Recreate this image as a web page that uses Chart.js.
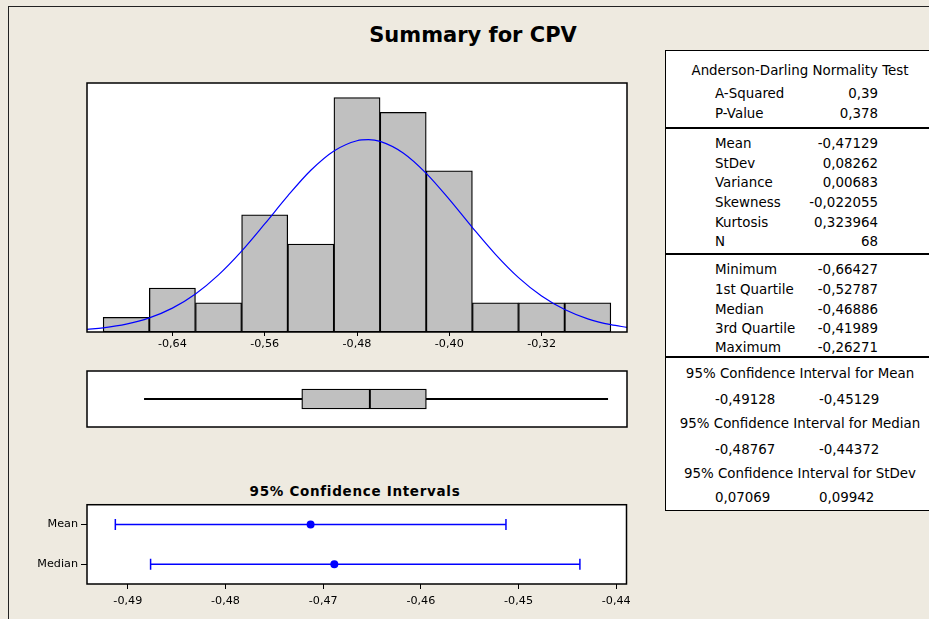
<!DOCTYPE html>
<html>
<head>
<meta charset="utf-8">
<script src="https://cdn.jsdelivr.net/npm/chart.js@4.4.0/dist/chart.umd.min.js"></script>
<style>
html,body{margin:0;padding:0;}
body{width:929px;height:619px;background:#EEEAE0;position:relative;overflow:hidden;font-family:"DejaVu Sans",sans-serif;color:#000;}
canvas{position:absolute;}
.box{position:absolute;box-sizing:border-box;}
.t{position:absolute;white-space:nowrap;font-size:13.4px;line-height:16px;height:16px;}
</style>
</head>
<body>
<div class="box" style="left:8px;top:6px;width:1000px;height:700px;border-left:1.5px solid #222;border-top:1.5px solid #222;"></div>
<div class="box" id="tbl" style="left:665px;top:50px;width:300px;height:461px;background:#fff;border:1.5px solid #000;"></div>
<script>
// ---------- data ----------
const binCenters = [-0.68, -0.64, -0.60, -0.56, -0.52, -0.48, -0.44, -0.40, -0.36, -0.32, -0.28];
const binCounts  = [1, 3, 2, 8, 6, 16, 15, 11, 2, 2, 2];
const curveX = [-0.714, -0.70, -0.68, -0.66, -0.64, -0.62, -0.60, -0.58, -0.56, -0.54, -0.52, -0.50, -0.48, -0.47, -0.46, -0.44, -0.42, -0.40, -0.38, -0.36, -0.34, -0.32, -0.30, -0.28, -0.26, -0.246];
const curveY = [0.175, 0.285, 0.541, 0.967, 1.632, 2.599, 3.901, 5.522, 7.376, 9.292, 11.04, 12.36, 13.06, 13.13, 13.01, 12.22, 10.83, 9.05, 7.13, 5.30, 3.71, 2.455, 1.531, 0.900, 0.499, 0.319];
const histTicks = [-0.64, -0.56, -0.48, -0.40, -0.32];

const boxLabels = ['Minimum', '1st Quartile', 'Median', '3rd Quartile', 'Maximum'];
const boxValues = [-0.66427, -0.52787, -0.46886, -0.41989, -0.26271];

const ciLabels   = ['Mean', 'Median'];
const ciEstimate = [-0.47129, -0.46886];
const ciLower    = [-0.49128, -0.48767];
const ciUpper    = [-0.45129, -0.44372];
const ciTicks    = [-0.49, -0.48, -0.47, -0.46, -0.45, -0.44];

const adTitle  = 'Anderson-Darling Normality  Test';
const adLabels = ['A-Squared', 'P-Value'];
const adValues = ['0,39', '0,378'];
const descLabels = ['Mean', 'StDev', 'Variance', 'Skewness', 'Kurtosis', 'N'];
const descValues = ['-0,47129', '0,08262', '0,00683', '-0,022055', '0,323964', '68'];
const ciTableTitles = ['95% Confidence Interval for Mean', '95% Confidence Interval for Median', '95% Confidence Interval for StDev'];
const ciTableLow  = ['-0,49128', '-0,48767', '0,07069'];
const ciTableHigh = ['-0,45129', '-0,44372', '0,09942'];

// ---------- helpers ----------
const fmt = (v, d) => Number(v).toFixed(d).replace('.', ',');
function txt(text, x, y, align, extra) {
  const d = document.createElement('div');
  d.className = 't';
  d.textContent = text;
  d.style.top = (y - 8) + 'px';
  if (align === 'right') { d.style.right = (929 - x) + 'px'; }
  else if (align === 'center') { d.style.left = x + 'px'; d.style.transform = 'translateX(-50%)'; }
  else { d.style.left = x + 'px'; }
  if (extra) Object.assign(d.style, extra);
  document.body.appendChild(d);
  return d;
}
function hline(y) {
  const d = document.createElement('div');
  d.className = 'box';
  Object.assign(d.style, {left: '665px', top: (y - 0.75) + 'px', width: '300px', height: '1.5px', background: '#000'});
  document.body.appendChild(d);
}
function mkCanvas(left, top, w, h) {
  const c = document.createElement('canvas');
  c.width = w; c.height = h;
  c.style.left = left + 'px'; c.style.top = top + 'px';
  c.style.width = w + 'px'; c.style.height = h + 'px';
  document.body.appendChild(c);
  return c;
}

// ---------- titles ----------
txt('Summary for CPV', 473, 35, 'center', {fontSize: '21px', fontWeight: 'bold', lineHeight: '24px', height: '24px', top: '23px'});
txt('95% Confidence Intervals', 355, 491, 'center', {fontSize: '13.5px', fontWeight: 'bold', letterSpacing: '0.7px'});

// ---------- table ----------
txt(adTitle, 800, 71, 'center');
const adY = [94, 114];
adLabels.forEach((l, i) => { txt(l, 715, adY[i], 'left'); txt(adValues[i], 878, adY[i], 'right'); });
hline(128);
const descY = [144, 164, 183, 203, 223, 242];
descLabels.forEach((l, i) => { txt(l, 715, descY[i], 'left'); txt(descValues[i], 878, descY[i], 'right'); });
hline(254);
const quartY = [270, 290, 310, 329, 348];
boxLabels.forEach((l, i) => { txt(l, 715, quartY[i], 'left'); txt(fmt(boxValues[i], 5), 878, quartY[i], 'right'); });
hline(357);
const ciHdrY = [374, 424, 474];
const ciValY = [400, 450, 498];
ciTableTitles.forEach((l, i) => {
  txt(l, 800, ciHdrY[i], 'center');
  txt(ciTableLow[i], 715, ciValY[i], 'left');
  txt(ciTableHigh[i], 819, ciValY[i], 'left');
});

// ---------- charts ----------
Chart.defaults.font.family = '"DejaVu Sans", sans-serif';
Chart.defaults.color = '#000';

const framePlugin = {
  id: 'frame',
  beforeDraw(chart) {
    const {ctx, chartArea: a} = chart;
    ctx.save();
    ctx.fillStyle = '#fff';
    ctx.fillRect(a.left, a.top, a.right - a.left, a.bottom - a.top);
    ctx.restore();
  },
  afterDraw(chart) {
    const {ctx, chartArea: a} = chart;
    ctx.save();
    ctx.strokeStyle = '#000';
    ctx.lineWidth = 1.5;
    ctx.strokeRect(a.left, a.top, a.right - a.left, a.bottom - a.top);
    ctx.restore();
  }
};
const common = {
  responsive: false, animation: false, devicePixelRatio: 1,
  events: [],
  plugins: {legend: {display: false}, tooltip: {enabled: false}, title: {display: false}}
};
const X_MIN = -0.714, X_MAX = -0.246;

// Histogram
new Chart(mkCanvas(0, 60, 660, 300), {
  type: 'bar',
  data: {
    datasets: [
      {
        type: 'line',
        data: curveX.map((x, i) => ({x: x, y: curveY[i]})),
        borderColor: '#0000FF', borderWidth: 1.2, pointRadius: 0,
        cubicInterpolationMode: 'monotone', order: 0
      },
      {
        type: 'bar',
        data: binCenters.map((x, i) => ({x: x, y: binCounts[i]})),
        backgroundColor: '#C0C0C0', borderColor: '#000', borderWidth: 1.3,
        borderSkipped: false, barPercentage: 1, categoryPercentage: 1, order: 1
      }
    ]
  },
  options: Object.assign({}, common, {
    layout: {padding: {left: 87, right: 33, top: 23, bottom: 4}},
    scales: {
      x: {
        type: 'linear', min: X_MIN, max: X_MAX, offset: false,
        afterBuildTicks: s => { s.ticks = histTicks.map(v => ({value: v})); },
        afterFit: s => { s.height = 24; },
        grid: {drawOnChartArea: false, drawTicks: true, tickLength: 4, color: '#000', lineWidth: 1, offset: false},
        border: {display: false},
        ticks: {font: {size: 11.2}, color: '#000', padding: 1, maxRotation: 0, autoSkip: false, callback: v => fmt(v, 2)}
      },
      y: {display: false, min: 0, max: 17}
    }
  }),
  plugins: [framePlugin]
});

// Boxplot
new Chart(mkCanvas(0, 365, 660, 70), {
  type: 'bar',
  data: {
    labels: ['CPV'],
    datasets: [
      {data: [[boxValues[0], boxValues[1]]], backgroundColor: '#000', borderWidth: 0, barThickness: 1.3, grouped: false},
      {data: [[boxValues[1], boxValues[2]]], backgroundColor: '#C0C0C0', borderColor: '#000', borderWidth: 1.3, borderSkipped: false, barThickness: 20, grouped: false},
      {data: [[boxValues[2], boxValues[3]]], backgroundColor: '#C0C0C0', borderColor: '#000', borderWidth: 1.3, borderSkipped: false, barThickness: 20, grouped: false},
      {data: [[boxValues[3], boxValues[4]]], backgroundColor: '#000', borderWidth: 0, barThickness: 1.3, grouped: false}
    ]
  },
  options: Object.assign({}, common, {
    indexAxis: 'y',
    layout: {padding: {left: 87, right: 33, top: 6, bottom: 8}},
    scales: {
      x: {type: 'linear', display: false, min: X_MIN, max: X_MAX, offset: false},
      y: {display: false}
    }
  }),
  plugins: [framePlugin]
});

// Confidence intervals
new Chart(mkCanvas(0, 495, 660, 124), {
  type: 'line',
  data: {
    datasets: ciLabels.map((lab, i) => ({
      data: [{x: ciLower[i], y: lab}, {x: ciUpper[i], y: lab}],
      borderColor: '#0000FF', borderWidth: 1.5,
      pointStyle: 'line', pointRotation: 90, pointRadius: 5.5,
      pointBorderColor: '#0000FF', pointBorderWidth: 1.5, order: 1
    })).concat([{
      data: ciLabels.map((lab, i) => ({x: ciEstimate[i], y: lab})),
      showLine: false, pointStyle: 'circle', pointRadius: 4,
      pointBackgroundColor: '#0000FF', pointBorderColor: '#0000FF', pointBorderWidth: 0, order: 0
    }])
  },
  options: Object.assign({}, common, {
    layout: {padding: {left: 0, right: 33.5, top: 8, bottom: 0}},
    scales: {
      x: {
        type: 'linear', min: -0.49418, max: -0.43895, offset: false,
        afterBuildTicks: s => { s.ticks = ciTicks.map(v => ({value: v})); },
        afterFit: s => { s.height = 35; },
        grid: {drawOnChartArea: false, drawTicks: true, tickLength: 5, color: '#000', lineWidth: 1},
        border: {display: false},
        ticks: {font: {size: 11.2}, color: '#000', padding: 5, maxRotation: 0, autoSkip: false, callback: v => fmt(v, 2)}
      },
      y: {
        type: 'category', labels: ciLabels, offset: true,
        afterFit: s => { s.width = 87; },
        grid: {drawOnChartArea: false, drawTicks: true, tickLength: 6, color: '#000', lineWidth: 1, offset: false},
        border: {display: false},
        ticks: {font: {size: 11.2}, color: '#000', padding: 3}
      }
    }
  }),
  plugins: [framePlugin]
});
</script>
</body>
</html>
